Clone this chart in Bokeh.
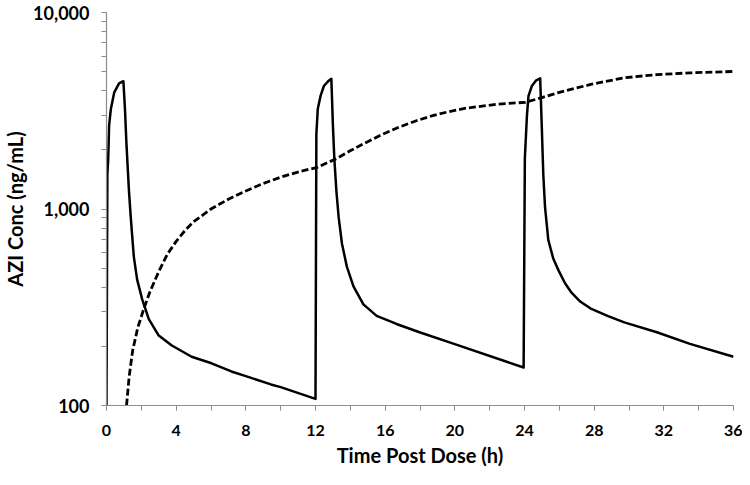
from bokeh.plotting import figure
from bokeh.models import FixedTicker
from bokeh.embed import file_html
from bokeh.resources import INLINE

# Plasma concentration (solid line), three 1-h infusions at 0, 12, 24 h
plasma_t = [0, 0.05, 0.1, 0.15, 0.25, 0.44, 0.72, 0.97,
            1.06, 1.14, 1.19, 1.29, 1.38, 1.48, 1.57, 1.76, 2.05, 2.43, 3.0, 3.75, 4.89, 6.03, 7.17, 8.0, 9.44, 10.0, 12.0,
            12.05, 12.13, 12.29, 12.48, 12.76, 12.91,
            13.0, 13.08, 13.2, 13.33, 13.52, 13.8, 14.18, 14.75, 15.51, 16.65, 17.97, 19.87, 23.95,
            24.02, 24.14, 24.23, 24.42, 24.65, 24.9,
            24.99, 25.08, 25.18, 25.37, 25.65, 25.94, 26.32, 26.7, 27.2, 27.84, 28.8, 29.73, 31.6, 33.5, 36.0]
plasma_c = [100, 1500, 1811, 2663, 3228, 3910, 4355, 4470,
            3228, 2198, 1811, 1234, 942, 720, 571, 437, 347, 275, 227, 202, 177, 164, 149, 141, 128, 124, 108,
            2400, 3228, 3762, 4225, 4500, 4600,
            2663, 1811, 1234, 906, 666, 509, 404, 327, 286, 260, 236, 207, 156,
            1811, 2987, 3762, 4225, 4500, 4620,
            2663, 1494, 1018, 693, 560, 490, 420, 375, 338, 310, 285, 265, 236, 206, 177]

# Second profile (dashed line)
dash_t = [1.15, 1.3, 1.5, 1.8, 2.14, 2.5, 3.0, 3.5, 4.0, 4.5, 5.0, 6.0, 7.0, 8.0, 9.0, 10.0, 11.15, 12.1,
          13.24, 13.99, 14.94, 15.89, 16.84, 17.79, 18.73, 19.68, 20.63, 22.5, 24.05,
          25.0, 25.94, 27.8, 29.7, 31.6, 33.5, 36.0]
dash_c = [100, 140, 190, 250, 310, 380, 480, 590, 684, 776, 861, 1000, 1122, 1236, 1349, 1452, 1556, 1629,
          1811, 1977, 2188, 2410, 2618, 2812, 2985, 3133, 3258, 3420, 3490,
          3690, 3910, 4305, 4650, 4830, 4930, 5010]

x_ticks = [0, 4, 8, 12, 16, 20, 24, 28, 32, 36]
x_minor = [0, 2, 4, 6, 8, 10, 12, 14, 16, 18, 20, 22, 24, 26, 28, 30, 32, 34, 36]
y_ticks = [100, 1000, 10000]
y_tick_labels = ["100", "1,000", "10,000"]
y_minor = [200, 300, 400, 500, 600, 700, 800, 900, 2000, 3000, 4000, 5000, 6000, 7000, 8000, 9000]

FONT = "Lato"
AXC = "#8c8c8c"

p = figure(width=742, height=469, y_axis_type="log", x_range=(0, 36), y_range=(100, 10000),
           output_backend="svg", toolbar_location=None)
p.min_border_left = 104
p.min_border_right = 9
p.min_border_top = 12
p.min_border_bottom = 62
p.outline_line_color = None
p.grid.visible = False
p.background_fill_color = "white"
p.border_fill_color = "white"

p.line(plasma_t, plasma_c, line_color="black", line_width=2.5, line_join="round")
p.line(dash_t, dash_c, line_color="black", line_width=2.8, line_dash="7 3")

xa = p.xaxis[0]
xa.ticker = FixedTicker(ticks=x_ticks, minor_ticks=x_minor)
xa.axis_label = "Time Post Dose (h)"
ya = p.yaxis[0]
ya.ticker = FixedTicker(ticks=y_ticks, minor_ticks=y_minor)
ya.major_label_overrides = {t: l for t, l in zip(y_ticks, y_tick_labels)}
ya.axis_label = "AZI Conc (ng/mL)"

for ax in (xa, ya):
    ax.axis_line_color = AXC
    ax.axis_line_width = 1.2
    ax.major_tick_line_color = AXC
    ax.minor_tick_line_color = AXC
    ax.major_tick_out = 5
    ax.major_tick_in = 0
    ax.minor_tick_out = 5
    ax.minor_tick_in = 0
    ax.major_label_text_font = FONT
    ax.major_label_text_font_style = "bold"
    ax.major_label_text_color = "black"
    ax.axis_label_text_font = FONT
    ax.axis_label_text_font_style = "bold"
    ax.axis_label_text_font_size = "20px"
    ax.axis_label_text_color = "black"

xa.major_label_text_font_size = "16px"
ya.major_label_text_font_size = "18px"
xa.major_label_standoff = 14
xa.axis_label_standoff = 4
ya.major_label_standoff = 12
ya.axis_label_standoff = 3

open("out.html", "w").write(file_html(p, INLINE))
